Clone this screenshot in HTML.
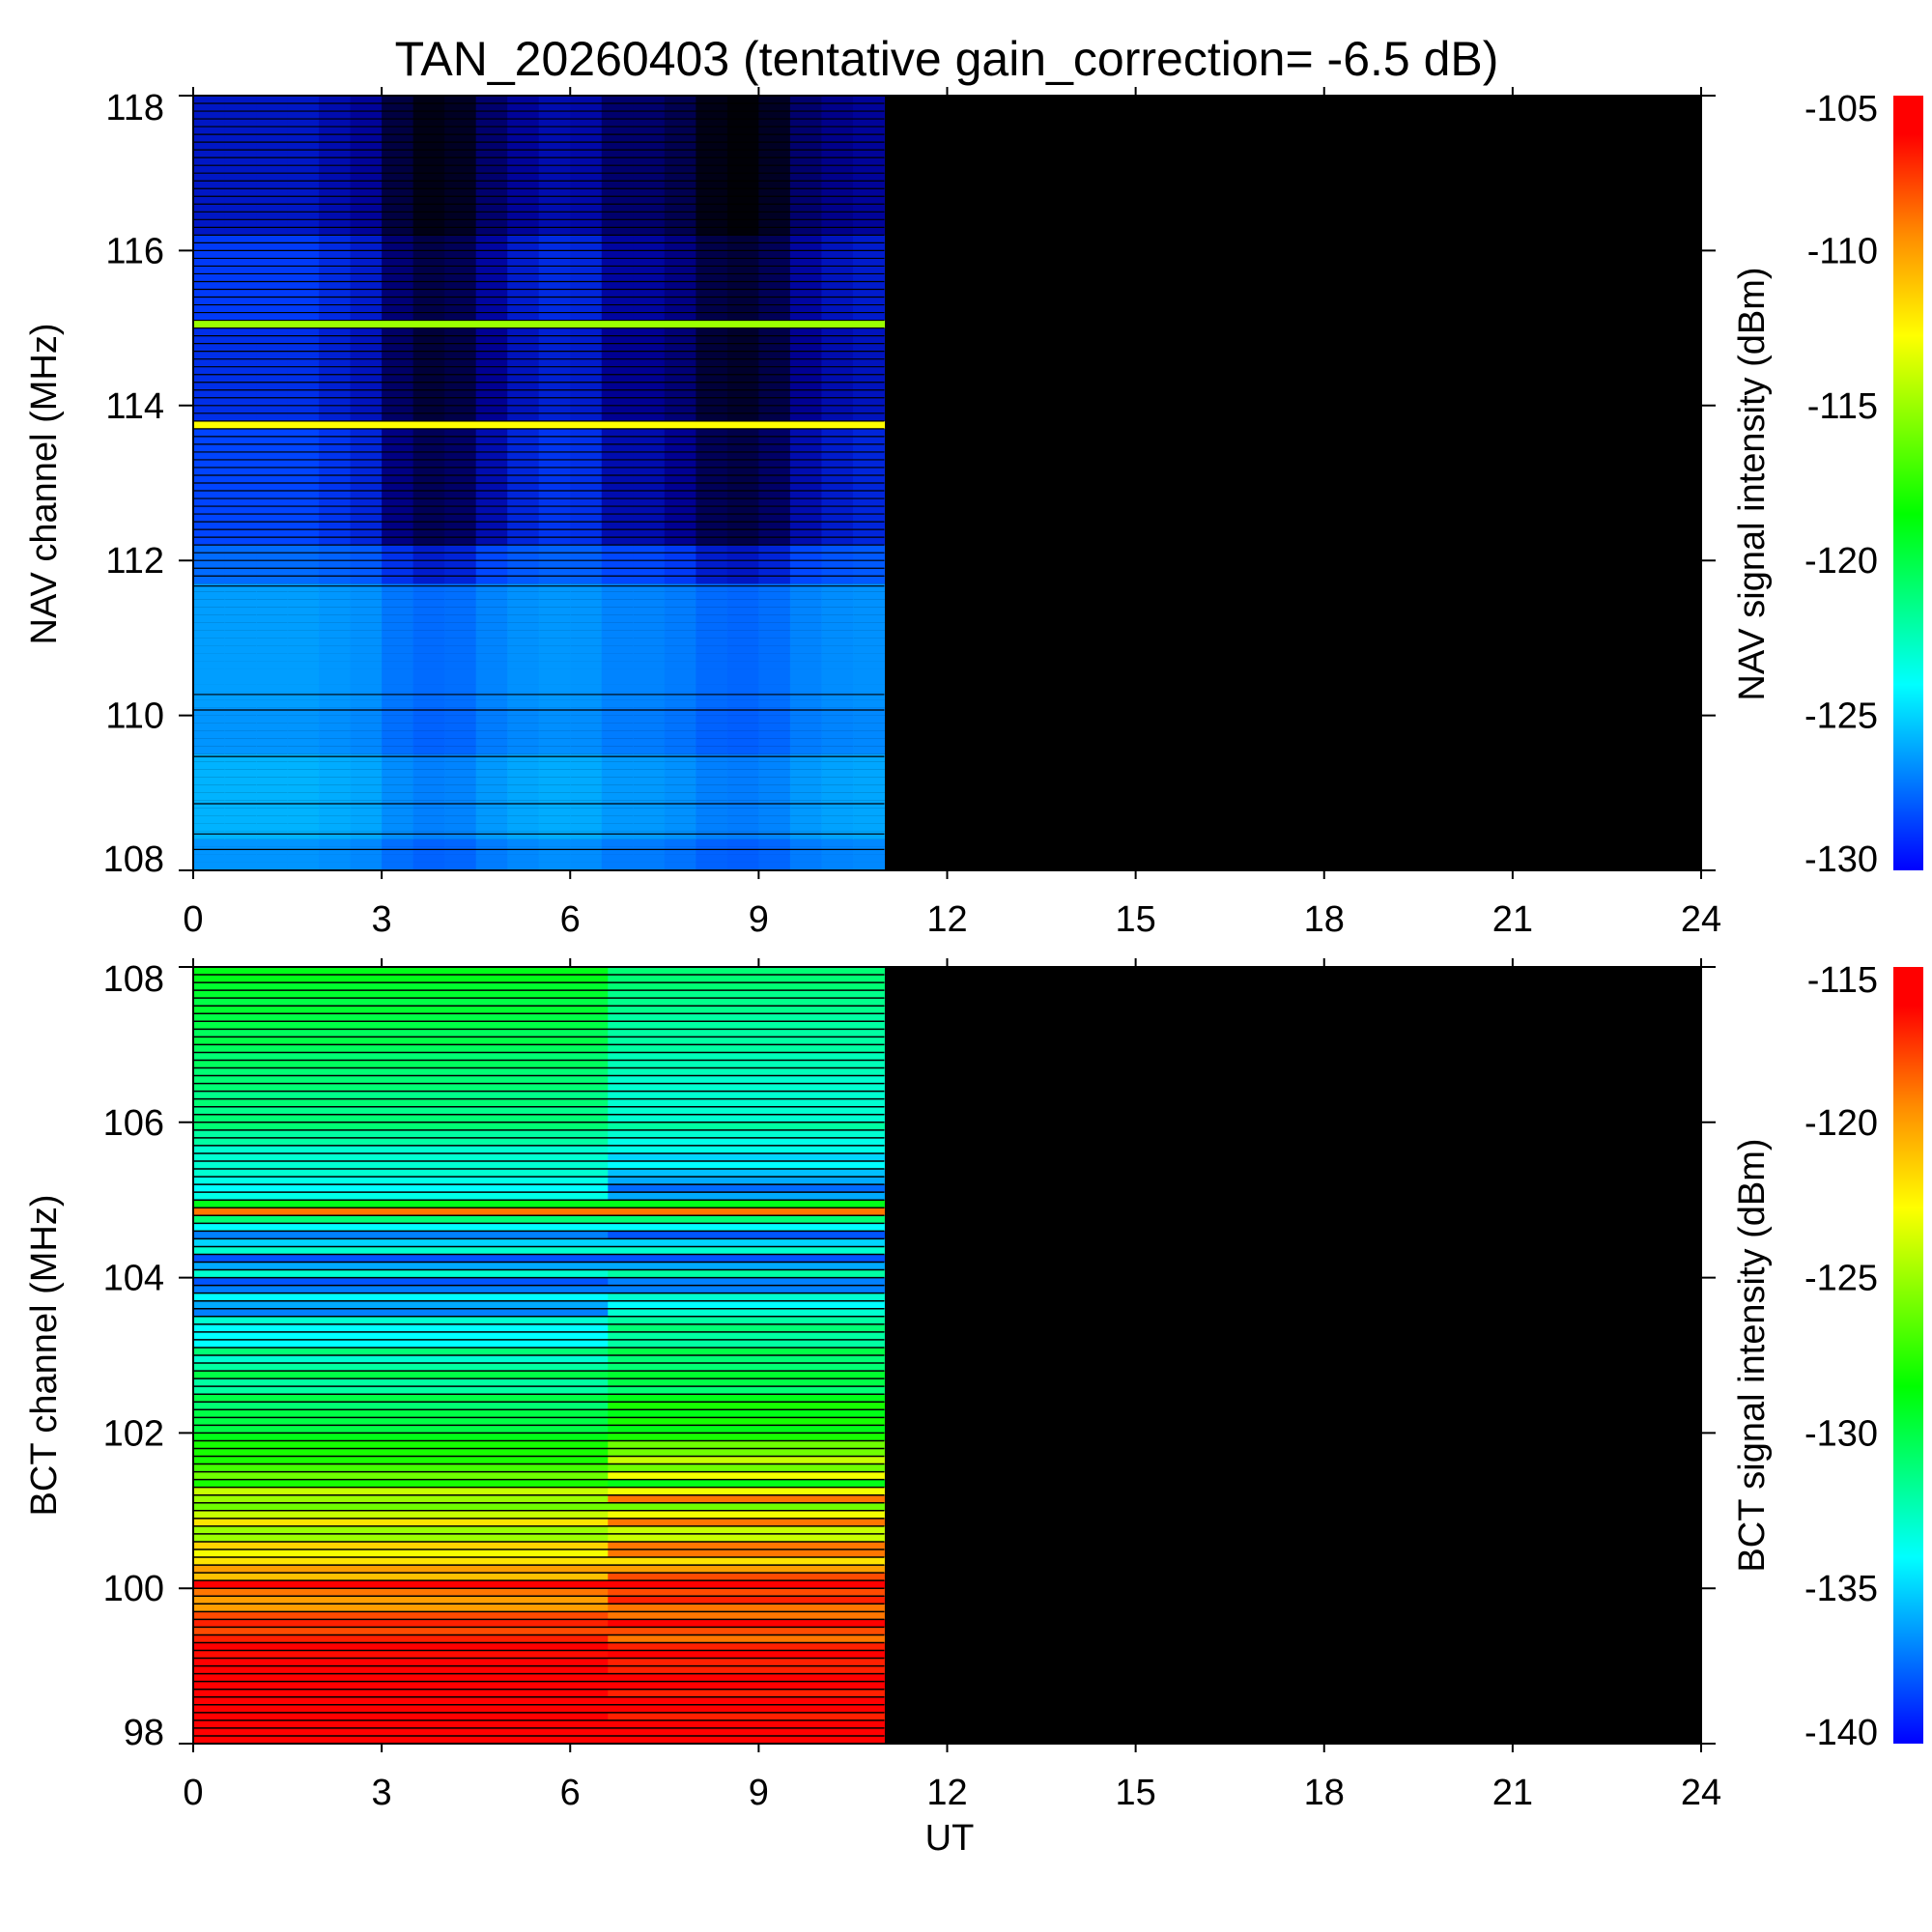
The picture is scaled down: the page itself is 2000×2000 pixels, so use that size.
<!DOCTYPE html>
<html><head><meta charset="utf-8"><title>TAN_20260403</title>
<style>
html,body{margin:0;padding:0;background:#fff;}
svg{display:block;font-family:"Liberation Sans",Arial,sans-serif;}
</style></head>
<body>
<svg id="chart" width="2000" height="2000" viewBox="0 0 2000 2000" xmlns="http://www.w3.org/2000/svg">
<rect width="2000" height="2000" fill="#fff"/>
<text x="980" y="78" font-size="50" text-anchor="middle">TAN_20260403 (tentative gain_correction= -6.5 dB)</text>
<g id="nav"></g>
<g id="bct"></g>
<text x="983" y="1915" font-size="38" text-anchor="middle">UT</text>
<text transform="translate(58,501) rotate(-90)" font-size="38" text-anchor="middle">NAV channel (MHz)</text>
<text transform="translate(58,1403) rotate(-90)" font-size="38" text-anchor="middle">BCT channel (MHz)</text>
<text transform="translate(1826,501) rotate(-90)" font-size="38" text-anchor="middle">NAV signal intensity (dBm)</text>
<text transform="translate(1826,1403) rotate(-90)" font-size="38" text-anchor="middle">BCT signal intensity (dBm)</text>
</svg>
<script>
// ---------- data ----------
const xTicks = [0,3,6,9,12,15,18,21,24];
const dataEndHour = 11;
// NAV: frequency bands (MHz) and their mean level (dBm), plus dip sensitivity
const navBandLo = [108.0,108.4,109.5,110.1,111.7,112.2,113.7,113.8,115.0,115.1,116.2];
const navBandHi = [108.4,109.5,110.1,111.7,112.2,113.7,113.8,115.0,115.1,116.2,118.0];
const navBandDb = [-126.5,-125.8,-126.5,-126.3,-127.5,-128.4,-112.7,-128.8,-115.0,-128.6,-129.3];
const navBandDepth = [0.5,0.5,0.5,0.5,0.7,1,0,1,0,1,1];
// NAV time modulation per half-hour bin (dB), 0..11 UT
const navTime = [0,0,0,0,-0.3,-0.6,-1.8,-2.4,-2.2,-1.2,-0.6,-0.3,-0.4,-1.2,-1.2,-1.6,-2.4,-2.6,-2.2,-1.2,-0.8,-0.6];
const navSepLines = [108.27,108.47,108.86,109.47,110.07,110.27,111.67];
const navYTicks = [108,110,112,114,116,118];
const navCbTicks = [-130,-125,-120,-115,-110,-105];
// BCT: 0.1 MHz channels listed from 108.0 downward, before and after the 6.6 UT change
const bctSplitHour = 6.6;
const bctEarly = [
-129,-129,-129.5,-129.5,-130,-129.5,-130,-130,-130.5,-130,-130.5,-131,-130.5,-131,-131,-131,-131.5,-131,-131.5,-131,
-131,-132,-132,-133,-133,-133,-133,-133.5,-134,-133.5,
-129,-119,-131,-134,-137,-135,-133,-138,-136,-133,
-138,-137,-134,-136,-137,-133,-134,-134,-134,-131,
-133,-132,-130,-132,-132,-130,-131,-130,-130,-130,
-129,-128,-128,-128,-127,-126,-128,-124,-125,-126,
-124,-122,-125,-125,-121.5,-123,-122,-120,-121,-115,
-119,-120,-120,-118,-117,-118,-117,-116,-116.5,-116,-115,-115,-115,-115,-115,-115,-115,-115,-115,-115];
const bctLate = [
-131,-131,-131,-131.5,-131.5,-131.5,-132,-132,-132,-132,-132,-132.5,-132.5,-132.5,-133,-133,-133,-133,-133,-133,
-132,-133,-133.5,-133.5,-135,-134,-135.5,-136,-137.5,-136,
-129,-119,-131,-134,-138,-135,-133,-138,-136,-132,
-137,-137,-133,-134,-133,-132,-131,-132,-132,-130,
-131,-131,-129.5,-130,-131,-129,-128,-129,-128,-129,
-128,-126,-126,-124,-126,-123,-129,-123,-119,-126,
-123,-119,-124,-124,-119,-119,-122,-120,-118,-115,
-118,-117,-119,-119,-116,-118,-119,-117,-116,-117,-117,-116,-116,-117,-116,-116,-117,-116,-116,-116];
const bctYTicks = [98,100,102,104,106,108];
const bctCbTicks = [-140,-135,-130,-125,-120,-115];

// ---------- helpers ----------
const NS = "http://www.w3.org/2000/svg";
const X0 = 200, X1 = 1761;
const xScale = h => X0 + (X1 - X0) * h / 24;
const cmapStops = [[0,[0,0,255]],[0.12,[0,128,255]],[0.24,[0,255,255]],[0.46,[0,255,0]],[0.69,[255,255,0]],[0.82,[255,140,0]],[0.95,[255,0,0]],[1,[255,0,0]]];
function cmapRGB(t){
  t = Math.max(0, Math.min(1, t));
  for (let i = 1; i < cmapStops.length; i++) {
    if (t <= cmapStops[i][0]) {
      const a = cmapStops[i-1], b = cmapStops[i];
      const f = (t - a[0]) / (b[0] - a[0] || 1);
      return a[1].map((v, k) => v + (b[1][k] - v) * f);
    }
  }
  return [255,0,0];
}
function rgb(c, k){ k = k === undefined ? 1 : k; return "rgb(" + c.map(v => Math.round(v * k)).join(",") + ")"; }
function cmap(t){ return rgb(cmapRGB(t)); }
function el(tag, parent, attrs){
  const e = document.createElementNS(NS, tag);
  for (const k in attrs) e.setAttribute(k, attrs[k]);
  parent.appendChild(e);
  return e;
}

function drawPanel(g, cfg){
  const yScale = f => cfg.y1 - (cfg.y1 - cfg.y0) * (f - cfg.fmin) / (cfg.fmax - cfg.fmin);
  const bg = el("rect", g, {x:X0, y:cfg.y0, width:X1-X0, height:cfg.y1-cfg.y0, fill:"#000"});
  
  
  cfg.drawCells(yScale);
  const gid = cfg.id + "-grad";
  const defs = el("defs", g, {});
  const lg = el("linearGradient", defs, {id:gid, x1:"0", y1:"1", x2:"0", y2:"0"});
  for (const s of cmapStops) el("stop", lg, {offset:s[0], "stop-color":cmap(s[0])});
  const cb = el("rect", g, {x:1960, y:cfg.y0, width:31, height:cfg.y1-cfg.y0, fill:"url(#"+gid+")"});
  
  
  const cbMin = cfg.cbTicks[0], cbMax = cfg.cbTicks[cfg.cbTicks.length-1];
  for (const v of cfg.cbTicks) {
    let y = cfg.y1 - (cfg.y1 - cfg.y0) * (v - cbMin) / (cbMax - cbMin);
    y = Math.max(cfg.y0 + 13, Math.min(cfg.y1 - 12, y));
    const t = el("text", g, {x:1944, y:y+13, "font-size":38, "text-anchor":"end"});
    t.textContent = String(v);
    
    
  }
  const fr = el("rect", g, {x:X0, y:cfg.y0, width:X1-X0, height:cfg.y1-cfg.y0, fill:"none", stroke:"#000", "stroke-width":2});
  
  
  for (const f of cfg.yTicks) {
    const y = yScale(f);
    const tk = el("path", g, {d:`M${X0-15},${y}H${X0}M${X1},${y}H${X1+15}`, stroke:"#000", "stroke-width":2});
    
    
    const ly = Math.max(cfg.y0 + 12, Math.min(cfg.y1 - 12, y));
    const t = el("text", g, {x:170, y:ly+13, "font-size":38, "text-anchor":"end"});
    t.textContent = String(f);
    
    
  }
  for (const h of xTicks) {
    const x = xScale(h);
    const tk = el("path", g, {d:`M${x},${cfg.y0-9}V${cfg.y0}M${x},${cfg.y1}V${cfg.y1+9}`, stroke:"#000", "stroke-width":2});
    
    
    const t = el("text", g, {x:x, y:cfg.y1+63, "font-size":38, "text-anchor":"middle"});
    t.textContent = String(h);
    
    
  }
}

// NAV panel: values near/below the colour floor fade to black (speckled dropouts)
const navG = document.getElementById("nav");
drawPanel(navG, {id:"nav", y0:99, y1:901, fmin:108, fmax:118, yTicks:navYTicks, cbTicks:navCbTicks,
  drawCells: (yScale) => {
    const cmin = navCbTicks[0], cmax = navCbTicks[navCbTicks.length-1];
    const binW = dataEndHour / navTime.length;
    for (let b = 0; b < navBandLo.length; b++) {
      const nRows = Math.max(1, Math.round((navBandHi[b] - navBandLo[b]) / 0.1));
      for (let r = 0; r < nRows; r++) {
        const flo = navBandLo[b] + r * (navBandHi[b] - navBandLo[b]) / nRows;
        const fhi = flo + (navBandHi[b] - navBandLo[b]) / nRows;
        for (let t = 0; t < navTime.length; t++) {
          const v = navBandDb[b] + navTime[t] * navBandDepth[b];
          const k = Math.max(0, Math.min(1, (v + 132) / 3.5));
          if (k <= 0) continue;
          const x0 = xScale(t * binW), x1 = xScale((t + 1) * binW);
          const c = el("rect", navG, {x:x0, y:yScale(fhi), width:x1-x0+0.6, height:yScale(flo)-yScale(fhi), fill:rgb(cmapRGB((v-cmin)/(cmax-cmin)), k)});
          
          
        }
        if (flo >= 111.8) {
          const ln = el("line", navG, {x1:X0, x2:xScale(dataEndHour), y1:yScale(flo), y2:yScale(flo), stroke:"#000", "stroke-width":1.2});
          
          
        }
      }
    }
    for (const f of navSepLines) {
      const ln = el("line", navG, {x1:X0, x2:xScale(dataEndHour), y1:yScale(f), y2:yScale(f), stroke:"#000", "stroke-width":1.2});
      
      
    }
  }});

// BCT panel
const bctG = document.getElementById("bct");
drawPanel(bctG, {id:"bct", y0:1001, y1:1805, fmin:98, fmax:108, yTicks:bctYTicks, cbTicks:bctCbTicks,
  drawCells: (yScale) => {
    const cmin = bctCbTicks[0], cmax = bctCbTicks[bctCbTicks.length-1];
    const step = 10 / bctEarly.length;
    for (let i = 0; i < bctEarly.length; i++) {
      const fhi = 108 - i * step, flo = fhi - step;
      const y0 = yScale(fhi), h = yScale(flo) - y0;
      const segs = [[0, bctSplitHour, bctEarly[i]], [bctSplitHour, dataEndHour, bctLate[i]]];
      for (const s of segs) {
        const c = el("rect", bctG, {x:xScale(s[0]), y:y0, width:xScale(s[1])-xScale(s[0])+0.5, height:h, fill:cmap((s[2]-cmin)/(cmax-cmin))});
        
        
      }
      const ln = el("line", bctG, {x1:X0, x2:xScale(dataEndHour), y1:y0, y2:y0, stroke:"#000", "stroke-width":1.5});
      
      
    }
  }});
</script>
</body></html>
